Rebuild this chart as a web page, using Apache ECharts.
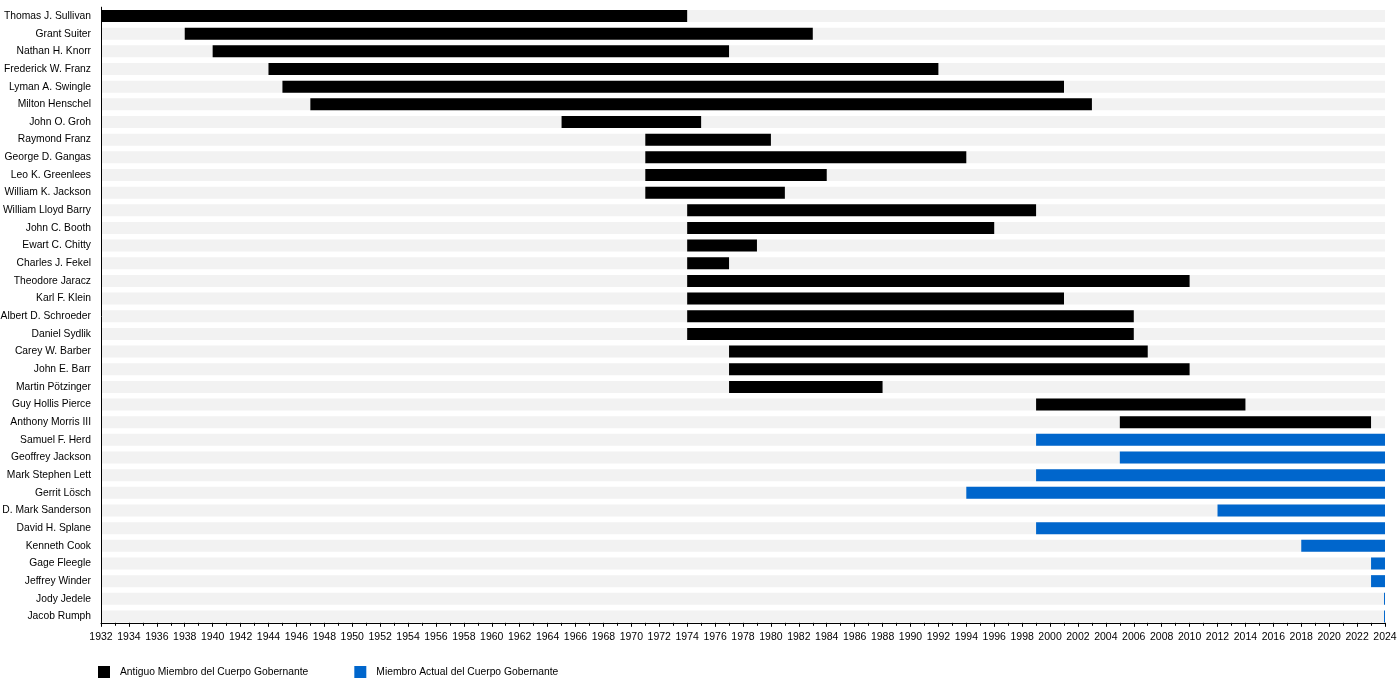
<!DOCTYPE html>
<html>
<head>
<meta charset="utf-8">
<script src="https://cdn.jsdelivr.net/npm/echarts@6/dist/echarts.min.js"></script>
<style>
  html, body { margin: 0; padding: 0; background: #fff; }
  #chart { width: 1400px; height: 682px; }
</style>
</head>
<body>
<div id="chart"></div>
<script>
// miembros, de arriba a abajo
const names = [
  'Thomas J. Sullivan', 'Grant Suiter', 'Nathan H. Knorr', 'Frederick W. Franz',
  'Lyman A. Swingle', 'Milton Henschel', 'John O. Groh', 'Raymond Franz',
  'George D. Gangas', 'Leo K. Greenlees', 'William K. Jackson', 'William Lloyd Barry',
  'John C. Booth', 'Ewart C. Chitty', 'Charles J. Fekel', 'Theodore Jaracz',
  'Karl F. Klein', 'Albert D. Schroeder', 'Daniel Sydlik', 'Carey W. Barber',
  'John E. Barr', 'Martin Pötzinger', 'Guy Hollis Pierce', 'Anthony Morris III',
  'Samuel F. Herd', 'Geoffrey Jackson', 'Mark Stephen Lett', 'Gerrit Lösch',
  'D. Mark Sanderson', 'David H. Splane', 'Kenneth Cook', 'Gage Fleegle',
  'Jeffrey Winder', 'Jody Jedele', 'Jacob Rumph'
]
const startYear = [
  1932, 1938, 1940, 1944, 1945, 1947, 1965, 1971,
  1971, 1971, 1971, 1974, 1974, 1974, 1974, 1974,
  1974, 1974, 1974, 1977, 1977, 1977, 1999, 2005,
  1999, 2005, 1999, 1994, 2012, 1999, 2018, 2023,
  2023, 2023.93, 2023.93
]
const endYear = [
  1974, 1983, 1977, 1992, 2001, 2003, 1975, 1980,
  1994, 1984, 1981, 1999, 1996, 1979, 1977, 2010,
  2001, 2006, 2006, 2007, 2010, 1988, 2014, 2023,
  2024, 2024, 2024, 2024, 2024, 2024, 2024, 2024,
  2024, 2024, 2024
]
// 1 = miembro actual
const isCurrent = [
  0, 0, 0, 0, 0, 0, 0, 0,
  0, 0, 0, 0, 0, 0, 0, 0,
  0, 0, 0, 0, 0, 0, 0, 0,
  1, 1, 1, 1, 1, 1, 1, 1,
  1, 1, 1
]
const legendNames = ['Antiguo Miembro del Cuerpo Gobernante', 'Miembro Actual del Cuerpo Gobernante']

const FONT = 'Liberation Sans'

let formerData = []
let currentData = []
for (let i = 0; i < names.length; i++) {
  const len = +(endYear[i] - startYear[i]).toFixed(2)
  formerData.push(isCurrent[i] ? '-' : len)
  currentData.push(isCurrent[i] ? len : '-')
}

const chart = echarts.init(document.getElementById('chart'))
chart.setOption({
  backgroundColor: '#fff',
  animation: false,
  textStyle: { fontFamily: FONT },
  grid: { left: 101, right: 15, top: 7.2, bottom: 56.7, outerBoundsMode: 'none', containLabel: false },
  legend: {
    data: legendNames,
    left: 93,
    top: 661,
    icon: 'rect',
    itemWidth: 12,
    itemHeight: 12,
    itemGap: 46,
    selectedMode: false,
    textStyle: { fontFamily: FONT, fontSize: 10.3, color: '#000', padding: [0, 0, 0, 5] }
  },
  xAxis: {
    type: 'value',
    min: 1932,
    max: 2024,
    interval: 2,
    offset: -2.5,
    z: 10,
    axisLine: { show: true, lineStyle: { color: '#000', width: 1 } },
    axisTick: { show: true, length: 4, lineStyle: { color: '#000' } },
    minorTick: { show: true, splitNumber: 2, length: 3, lineStyle: { color: '#000' } },
    splitLine: { show: false },
    axisLabel: {
      color: '#000', fontSize: 10.5, fontFamily: FONT, margin: 9,
      formatter: (v) => String(v)
    }
  },
  yAxis: {
    type: 'category',
    data: names,
    inverse: true,
    z: 10,
    axisLine: { show: true, lineStyle: { color: '#000', width: 1 } },
    axisTick: { show: false },
    axisLabel: { color: '#000', fontSize: 10.3, fontFamily: FONT, margin: 10, padding: [2, 0, 0, 0] }
  },
  series: [
    {
      name: 'inicio',
      type: 'bar',
      stack: 'periodo',
      barWidth: 12,
      silent: true,
      itemStyle: { color: 'transparent' },
      showBackground: true,
      backgroundStyle: { color: '#f2f2f2' },
      data: startYear
    },
    {
      name: legendNames[0],
      type: 'bar',
      stack: 'periodo',
      barWidth: 12,
      itemStyle: { color: '#000' },
      data: formerData
    },
    {
      name: legendNames[1],
      type: 'bar',
      stack: 'periodo',
      barWidth: 12,
      itemStyle: { color: '#0066cc' },
      data: currentData
    }
  ]
})
</script>
</body>
</html>
